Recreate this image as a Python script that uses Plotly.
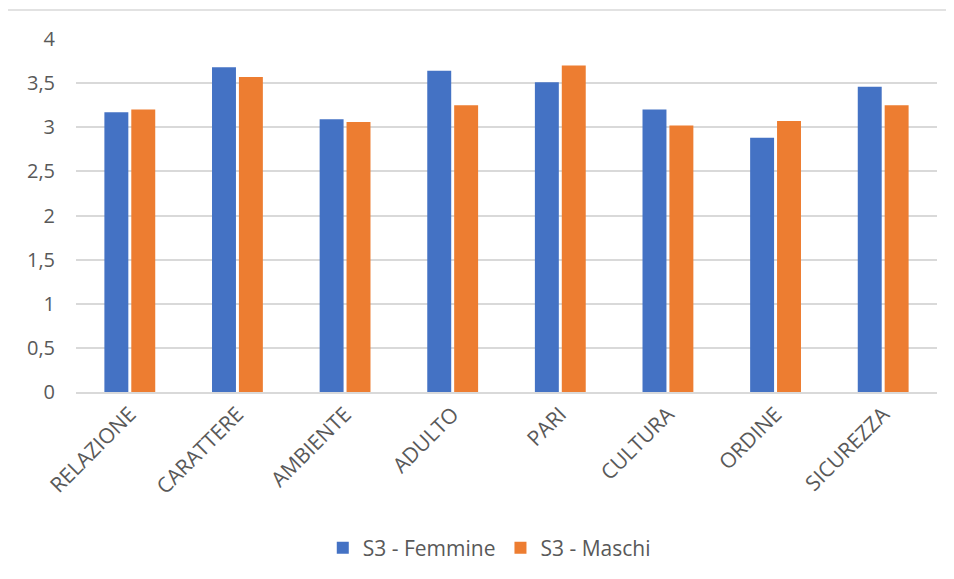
import plotly.graph_objects as go

# Categories and values
categories = ["RELAZIONE", "CARATTERE", "AMBIENTE", "ADULTO", "PARI", "CULTURA", "ORDINE", "SICUREZZA"]
femmine = [3.17, 3.68, 3.09, 3.64, 3.51, 3.20, 2.88, 3.46]
maschi = [3.20, 3.57, 3.06, 3.25, 3.70, 3.02, 3.07, 3.25]
y_ticks = [0, 0.5, 1, 1.5, 2, 2.5, 3, 3.5, 4]

fig = go.Figure()
fig.add_bar(x=categories, y=femmine, name="S3 - Femmine", marker_color="#4472C4",
            marker_line_width=0)
fig.add_bar(x=categories, y=maschi, name="S3 - Maschi", marker_color="#ED7D31",
            marker_line_width=0)

# Outer chart border like the spreadsheet frame
fig.add_shape(type="rect", xref="paper", yref="paper",
              x0=-0.0813, x1=1.1, y0=-0.6, y1=1.082,
              line=dict(color="#D9D9D9", width=1.5), layer="below")

# page body adds an 8px offset, so the figure is sized to fit the window
fig.update_layout(
    width=938,
    height=563,
    margin=dict(l=68, r=9, t=31, b=179, autoexpand=False),
    template="plotly_white",
    plot_bgcolor="white",
    paper_bgcolor="white",
    separators=",.",
    barmode="group",
    bargap=0.5,
    bargroupgap=0.11,
    font=dict(family="Open Sans", size=20, color="#595959"),
    xaxis=dict(tickangle=-45, showgrid=False, showline=True, linecolor="#D9D9D9",
               linewidth=1.5, ticks="", tickfont=dict(size=21)),
    yaxis=dict(range=[0, 4], tickvals=y_ticks, gridcolor="#D9D9D9", gridwidth=1.5,
               zeroline=False, ticks="", ticklabelstandoff=20, tickfont=dict(size=20)),
    legend=dict(orientation="h", x=0.48, xanchor="center", y=-0.442, yanchor="middle",
                font=dict(size=21), itemwidth=30, traceorder="normal"),
)

fig.write_html("out.html")
